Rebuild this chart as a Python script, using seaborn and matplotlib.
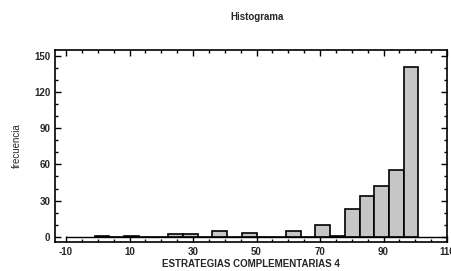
import numpy as np
import pandas as pd
import matplotlib
matplotlib.use("Agg")
import matplotlib.pyplot as plt
from matplotlib.ticker import MultipleLocator
import seaborn as sns

# histogram bins and counts
bin_lo = -1
bin_hi = 101
n_bins = 22
counts = [1, 0, 1, 0, 0, 2, 2, 0, 5, 0, 3, 0, 0, 5, 0, 10, 1, 23, 34, 42, 55, 141]
x_ticks = [-10, 10, 30, 50, 70, 90, 110]
y_ticks = [0, 30, 60, 90, 120, 150]

edges = np.linspace(bin_lo, bin_hi, n_bins + 1)
df = pd.DataFrame({"valor": (edges[:-1] + edges[1:]) / 2, "n": counts})

sns.set_style("ticks")
plt.rcParams['font.family'] = ['Liberation Sans', 'DejaVu Sans']
plt.rcParams['axes.unicode_minus'] = False

fig = plt.figure(figsize=(4.52, 2.71), dpi=100)
ax = fig.add_axes([55 / 452, 1 - 241.7 / 271, 392 / 452, 191.7 / 271])

sns.histplot(data=df, x="valor", weights="n", bins=n_bins, binrange=(bin_lo, bin_hi),
             ax=ax, color="#c6c6c6", edgecolor="black", linewidth=1.2, alpha=1)
ax.hlines(0, -10, 110, color="black", linewidth=1.0, zorder=3)

ax.set_xlim(-13.5, 110)
ax.set_ylim(-4, 154.7)
ax.set_xticks(x_ticks)
ax.set_yticks(y_ticks)
ax.xaxis.set_minor_locator(MultipleLocator(5))
ax.yaxis.set_minor_locator(MultipleLocator(10))
ax.tick_params(which="both", direction="in", top=True, right=True,
               labelsize=7, width=1.0, color="black")
ax.tick_params(which="major", length=4)
ax.tick_params(which="minor", length=2.5)
for lab in ax.get_xticklabels() + ax.get_yticklabels():
    lab.set_fontweight("bold")
for sp in ax.spines.values():
    sp.set_linewidth(1.2)
    sp.set_color("black")

ax.set_xlabel("ESTRATEGIAS COMPLEMENTARIAS 4", fontsize=7, fontweight="bold", labelpad=1.5)
ax.set_ylabel("frecuencia", fontsize=7, labelpad=9)
fig.text(257 / 452, 1 - 17 / 271, "Histograma", fontsize=7, fontweight="bold",
         ha="center", va="center")

fig.savefig("out.png", dpi=100)
